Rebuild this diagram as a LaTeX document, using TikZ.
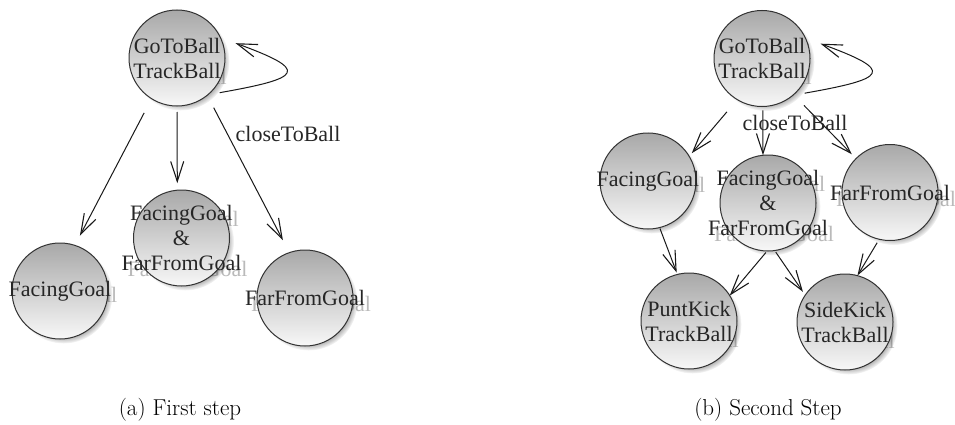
\documentclass[tikz,border=0pt]{standalone}
\usepackage{fontspec}
\newfontfamily\statefont{Liberation Serif}
\usetikzlibrary{arrows.meta,shadows,fadings}

\tikzset{
  state/.style={circle, draw=black!80, line width=1pt, minimum size=96pt,
    inner sep=0pt, outer sep=0pt, top color=black!34, bottom color=black!3,
    circular drop shadow={shadow xshift=3.5pt, shadow yshift=-3.5pt,
      shadow scale=1.02, fill=black, opacity=0.35}},
  statetext/.style={font=\statefont\fontsize{22}{25}\selectfont, align=center,
    text=black!85, inner sep=0pt},
  ghosttext/.style={statetext, text=black!27, xshift=6pt, yshift=-6pt},
  arc/.style={draw=black!90, line width=1pt,
    -{Straight Barb[length=20pt,width=13pt,line width=1.1pt]}},
  guard/.style={font=\statefont\fontsize{22}{25}\selectfont, text=black!85, inner sep=0pt},
  subcap/.style={font=\fontsize{23}{26}\selectfont, inner sep=0pt, anchor=base}
}

\begin{document}
\begin{tikzpicture}[x=1pt, y=1pt]
  \fill[white] (0,0) rectangle (955,424);
  \useasboundingbox (0,0) rectangle (955,424);

  % ---------- (a) first step ----------
  \coordinate (a1) at (177,366);
  \coordinate (b1) at (60,133);
  \coordinate (c1) at (181.5,186);
  \coordinate (d1) at (305,126);

  \node[ghosttext] at (a1) {GoToBall\\TrackBall};
  \node[ghosttext] at (b1) {FacingGoal};
  \node[ghosttext] at (c1) {FacingGoal\\\&\\FarFromGoal};
  \node[ghosttext] at (d1) {FarFromGoal};

  \node[state] (A1) at (a1) {};
  \node[state] (B1) at (b1) {};
  \node[state] (C1) at (c1) {};
  \node[state] (D1) at (d1) {};

  \node[statetext] (tA1) at (A1) {GoToBall\\TrackBall};
  \node[statetext] (tB1) at (B1) {FacingGoal};
  \node[statetext] (tC1) at (C1) {FacingGoal\\\&\\FarFromGoal};
  \node[statetext] (tD1) at (D1) {FarFromGoal};

  \draw[arc, shorten <=16pt, shorten >=11pt] (A1.238) -- (B1.72);
  \draw[arc, shorten <=6pt, shorten >=7pt] (A1.270) -- (C1.95);
  \draw[arc, shorten <=14pt, shorten >=14pt] (A1.309) -- (D1.109);
  \draw[arc, shorten <=12pt, shorten >=16pt]
    (A1.310) .. controls +(10:96) and +(-20:96) .. (A1.25);
  \node[guard] (g1) at (288,290) {closeToBall};

  % ---------- (b) second step ----------
  \coordinate (a2) at (762,365.5);
  \coordinate (b2) at (648,243);
  \coordinate (c2) at (768,221);
  \coordinate (d2) at (890,231.5);
  \coordinate (e2) at (689,103);
  \coordinate (f2) at (845,102);

  \node[ghosttext] at (a2) {GoToBall\\TrackBall};
  \node[ghosttext] at (b2) {FacingGoal};
  \node[ghosttext] at (c2) {FacingGoal\\\&\\FarFromGoal};
  \node[ghosttext] at (d2) {FarFromGoal};
  \node[ghosttext] at (e2) {PuntKick\\TrackBall};
  \node[ghosttext] at (f2) {SideKick\\TrackBall};

  \node[state] (A2) at (a2) {};
  \node[state] (B2) at (b2) {};
  \node[state] (C2) at (c2) {};
  \node[state] (D2) at (d2) {};
  \node[state] (E2) at (e2) {};
  \node[state] (F2) at (f2) {};

  \node[statetext] (tA2) at (A2) {GoToBall\\TrackBall};
  \node[statetext] (tB2) at (B2) {FacingGoal};
  \node[statetext] (tC2) at (C2) {FacingGoal\\\&\\FarFromGoal};
  \node[statetext] (tD2) at (D2) {FarFromGoal};
  \node[statetext] (tE2) at (E2) {PuntKick\\TrackBall};
  \node[statetext] (tF2) at (F2) {SideKick\\TrackBall};

  \draw[arc, shorten <=16pt, shorten >=4pt] (A2.239) -- (B2.31);
  \draw[arc, shorten <=4pt] (A2.271) -- (C2.96);
  \draw[arc, shorten <=15pt, shorten >=6pt] (A2.311) -- (D2.135);
  \draw[arc, shorten <=12pt, shorten >=16pt]
    (A2.310) .. controls +(10:96) and +(-20:96) .. (A2.25);
  \draw[arc, shorten <=1pt, shorten >=2pt] (B2.284) -- (E2.104);
  \draw[arc, shorten <=2pt] (C2.269) -- (E2.32);
  \draw[arc, shorten <=2pt, shorten >=4pt] (C2.278) -- (F2.146);
  \draw[arc, shorten <=4pt] (D2.257) -- (F2.75);
  \node[guard] (g2) at (795,301) {closeToBall};

  % ---------- sub-captions ----------
  \node[subcap] (capa) at (180,9) {(a) First step};
  \node[subcap] (capb) at (768,9) {(b) Second Step};
\end{tikzpicture}
\end{document}
